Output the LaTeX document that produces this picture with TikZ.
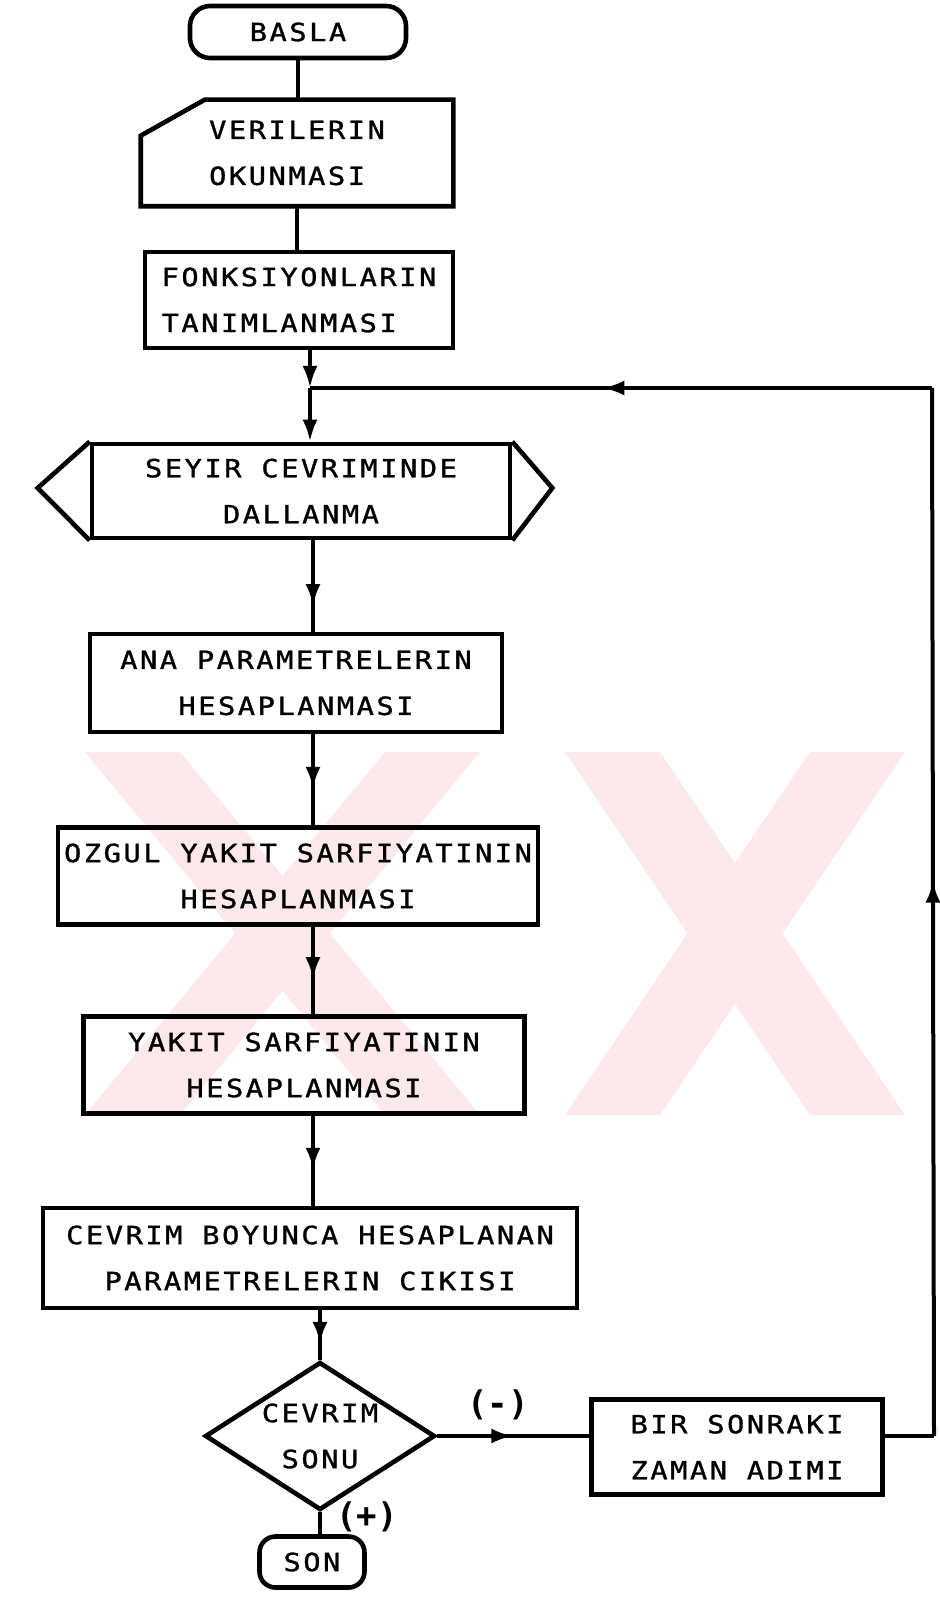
\documentclass[tikz,border=0pt]{standalone}
\usepackage{fontspec}
\usetikzlibrary{arrows.meta,decorations.markings,shapes.geometric,calc}
\newfontfamily\dmfont[LetterSpace=10,FakeStretch=1.15,FakeBold=1.2]{DejaVu Sans Mono}
\newfontfamily\lblfont{DejaVu Sans Mono Bold}
\definecolor{wm}{RGB}{253,232,236}
\begin{document}
\begin{tikzpicture}[x=0.5pt,y=-0.5pt,
  box/.style={draw,line width=2.3pt,inner sep=0pt,font=\dmfont\fontsize{12.5}{23}\selectfont},
  term/.style={box,rounded corners=10pt},
  conn/.style={line width=2pt},
  tip/.style={-{Latex[length=11pt,width=7.5pt]}},
  midarrow/.style={postaction={decorate},decoration={markings,mark=at position #1 with {\arrow{Latex[length=11pt,width=7.5pt]}}}},
  lbl/.style={font=\lblfont\fontsize{17}{17}\selectfont,inner sep=0pt},
  wmark/.style={fill=wm,draw=none}]
\useasboundingbox (0,0) rectangle (940,1598);
% watermark
\fill[wm] (85,752) -- (180,752) -- (480,1115) -- (385,1115) -- cycle;
\fill[wm] (385,752) -- (480,752) -- (180,1115) -- (85,1115) -- cycle;
\fill[wm] (565,752) -- (660,752) -- (905,1115) -- (810,1115) -- cycle;
\fill[wm] (810,752) -- (905,752) -- (660,1115) -- (565,1115) -- cycle;
% nodes
\node[term,minimum width=108pt,minimum height=26pt] (basla) at (298,32) {BASLA};
\node[box,draw=none,minimum width=154pt,minimum height=51pt,align=left] (ver) at (297,153) {VERILERIN\\OKUNMASI};
\node[box,minimum width=154pt,minimum height=48pt,align=left] (fonk) at (299,300) {FONKSIYONLARIN\\TANIMLANMASI};
\node[box,minimum width=209pt,minimum height=47pt,align=center] (seyir) at (301,491) {SEYIR CEVRIMINDE\\DALLANMA};
\node[box,minimum width=206pt,minimum height=49pt,align=center] (ana) at (296,683) {ANA PARAMETRELERIN\\HESAPLANMASI};
\node[box,minimum width=240pt,minimum height=48.5pt,align=center] (ozgul) at (298,876) {OZGUL YAKIT SARFIYATININ\\HESAPLANMASI};
\node[box,minimum width=220.5pt,minimum height=48.5pt,align=center] (yakit) at (304,1065) {YAKIT SARFIYATININ\\HESAPLANMASI};
\node[box,minimum width=267pt,minimum height=50pt,align=center] (cevrim) at (310,1258) {CEVRIM BOYUNCA HESAPLANAN\\PARAMETRELERIN CIKISI};
\node[box,diamond,aspect=1.55,minimum width=115pt,minimum height=74pt,align=center] (son1) at (320,1436) {CEVRIM\\SONU};
\node[term,minimum width=52.5pt,minimum height=25.5pt,rounded corners=8pt] (son) at (312,1562) {SON};
\node[box,minimum width=145.5pt,minimum height=47.5pt,align=center] (bir) at (737,1447) {BIR SONRAKI\\ZAMAN ADIMI};
\node[lbl] (lminus) at (498,1405) {(-)};
\node[lbl] (lplus) at (367,1517) {(+)};
% special shapes
\draw[line width=2.3pt,line join=miter] ($(ver.north west)+(64,0)$) -- (ver.north east) -- (ver.south east) -- (ver.south west) -- ($(ver.north west)+(0,36)$) -- cycle;
\draw[line width=2.3pt] (seyir.north west) -- ($(seyir.west)+(-52,-3)$) -- (seyir.south west);
\draw[line width=2.3pt] (seyir.north east) -- ($(seyir.east)+(40,-3)$) -- (seyir.south east);
% coordinates
\coordinate (J) at (310,388);
\coordinate (S) at (313,0);
\coordinate (c1) at (934,1436);
\coordinate (c2) at (932,388);
% connectors
\draw[conn] (basla.south) -- (ver.north -| basla.south);
\draw[conn] (ver.south) -- (fonk.north -| ver.south);
\draw[conn,tip] (fonk.south -| J) -- (J);
\draw[conn,tip] (J) -- (seyir.north -| J);
\draw[conn,midarrow=0.72] (seyir.south -| S) -- (ana.north -| S);
\draw[conn,midarrow=0.6] (ana.south -| S) -- (ozgul.north -| S);
\draw[conn,midarrow=0.6] (ozgul.south -| S) -- (yakit.north -| S);
\draw[conn,midarrow=0.6] (yakit.south -| S) -- (cevrim.north -| S);
\draw[conn,midarrow=0.68] (cevrim.south -| son1.north) -- (son1.north);
\draw[conn] (son1.south) -- (son.north -| son1.south);
\draw[conn,midarrow=0.5] (son1.east) -- (bir.west |- son1.east);
\draw[conn] (bir.east |- c1) -- (c1);
\draw[conn,midarrow=0.53] (c1) -- (c2);
\draw[conn,midarrow=0.53] (c2) -- (J);
\end{tikzpicture}
\end{document}
